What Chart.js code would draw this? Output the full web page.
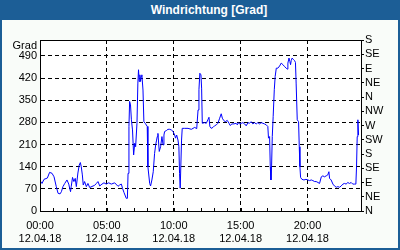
<!DOCTYPE html>
<html>
<head>
<meta charset="utf-8">
<script src="https://cdn.jsdelivr.net/npm/chart.js@4"></script>
<style>
  html, body { margin: 0; padding: 0; }
  body { width: 400px; height: 250px; overflow: hidden; position: relative; }
  #frame { position: absolute; left: 0; top: 0; width: 400px; height: 250px; box-sizing: border-box;
           border: 2px solid #1c5e96; background: #f9fcf9; }
  #titlebar { position: absolute; left: 0; top: 0; width: 400px; height: 20px; box-sizing: border-box;
              padding-left: 18px; background: #1c5e96; color: #fff; text-align: center;
              font: bold 12px "Liberation Sans", Arial, sans-serif; line-height: 20px; }
  #chart { position: absolute; left: 0; top: 0; }
</style>
</head>
<body>
<div id="frame"></div>
<div id="titlebar">Windrichtung [Grad]</div>
<canvas id="chart" width="400" height="250"></canvas>
<script>
// Zeit in Minuten ab 00:00
const minutes = [
  0, 9, 18, 33, 43, 54, 63, 73, 81, 90, 96, 103, 111, 121, 129, 133, 137, 140, 146, 152,
  158, 163, 170, 176, 181, 185, 190, 194, 200, 208, 215, 223, 238, 245, 253, 260, 268, 278, 287, 297,
  308, 320, 335,
  350, 357, 365, 370, 377, 387, 392, 395, 399, 402, 406, 410, 415, 420, 425, 429, 435, 439, 442, 445,
  448, 451, 454, 457, 462, 466, 472, 481, 484, 492, 496, 502, 508, 514, 519, 523, 526, 529, 535, 541,
  547, 552, 556, 559, 567, 574, 582, 589, 597, 604, 608, 613, 619, 623, 626, 629, 632, 635, 638, 649,
  664, 679, 694, 703,
  709, 713, 717, 722, 725, 728, 731, 738, 746, 753, 758, 762, 768, 776, 783, 791, 798, 806, 813, 818,
  824, 831, 840, 848, 853, 861, 870, 880, 885, 890, 895, 903, 910, 918, 925, 933, 940, 947, 955, 962,
  970, 977, 985, 992, 1000, 1007, 1015, 1022, 1025, 1030, 1033, 1036, 1039, 1042, 1046, 1051, 1055, 1060,
  1067, 1075, 1082, 1090, 1097, 1105, 1109, 1112, 1117, 1121, 1124, 1127, 1131, 1136, 1142, 1146, 1149, 1154, 1160, 1163,
  1166, 1169, 1175, 1184, 1193, 1202, 1209, 1217, 1224, 1232, 1239, 1247, 1254, 1262, 1269, 1276, 1284, 1291, 1296, 1299,
  1306, 1314, 1321, 1329, 1336, 1344, 1351, 1359, 1366, 1373, 1381, 1388, 1396, 1403, 1411, 1417, 1420, 1423, 1426, 1429
];

// Windrichtung in Grad
const windDir = [
  96, 87, 100, 104, 122, 119, 108, 77, 56, 54, 61, 77, 87, 98, 85, 72, 61, 77, 106, 93,
  103, 77, 120, 145, 153, 140, 114, 82, 93, 77, 87, 74, 79, 81, 87, 93, 79, 85, 89, 85,
  89, 85, 89,
  78, 82, 85, 72, 58, 40, 40, 119, 267, 346, 335, 288, 256, 177, 214, 203, 277, 404, 446, 409,
  430, 409, 425, 430, 382, 282, 277, 267, 140, 87, 79, 98, 124, 182, 209, 224, 235, 245, 188, 203,
  235, 209, 240, 251, 254, 258, 258, 256, 251, 240, 230, 240, 224, 203, 119, 72, 72, 224, 261, 261,
  261, 258, 264, 260,
  319, 383, 435, 430, 388, 277, 277, 279, 277, 288, 296, 267, 261, 264, 269, 272, 277, 293, 307, 293,
  286, 282, 286, 277, 270, 275, 275, 277, 272, 279, 275, 277, 279, 275, 269, 279, 277, 282, 275, 279,
  275, 279, 275, 279, 277, 275, 272, 267, 230, 235, 140, 98, 145, 235, 298, 383, 425, 451,
  451, 458, 467, 462, 456, 451, 448, 467, 483, 472, 462, 475, 483, 479, 475, 469, 404, 288, 282, 203,
  140, 106, 100, 98, 100, 98, 96, 98, 96, 93, 93, 90, 87, 108, 111, 108, 111, 114, 124, 103,
  98, 85, 79, 75, 77, 75, 79, 85, 87, 85, 90, 87, 90, 85, 85, 85, 140, 235, 288, 240
];

// Achsenbeschriftungen
const hourLabels = ['00:00', '05:00', '10:00', '15:00', '20:00'];
const dateLabel  = '12.04.18';
const compass    = ['N', 'NE', 'E', 'SE', 'S', 'SW', 'W', 'NW', 'N', 'NE', 'E', 'SE', 'S'];
const unitLabel  = 'Grad';

const FONT = '"Liberation Sans", Arial, sans-serif';
Chart.defaults.font.family = FONT;
Chart.defaults.font.size = 11;
Chart.defaults.color = '#000';

// Rahmen, Stundenstriche und "Grad"
const framePlugin = {
  id: 'framePlugin',
  beforeDraw(chart) {
    const { ctx, chartArea: a } = chart;
    ctx.save();
    ctx.fillStyle = '#ffffff';
    ctx.fillRect(a.left, a.top, a.right - a.left, a.bottom - a.top);
    ctx.restore();
  },
  afterDraw(chart) {
    const { ctx, chartArea: a, scales } = chart;
    ctx.save();
    ctx.strokeStyle = '#000';
    ctx.lineWidth = 1;
    ctx.strokeRect(Math.round(a.left) + 0.5, Math.round(a.top) + 0.5,
                   Math.round(a.right) - Math.round(a.left), Math.round(a.bottom) - Math.round(a.top));
    // kleine Stundenstriche nach innen
    ctx.beginPath();
    for (let m = 60; m < 1440; m += 60) {
      const px = Math.round(scales.x.getPixelForValue(m)) + 0.5;
      ctx.moveTo(px, Math.round(a.bottom));
      ctx.lineTo(px, Math.round(a.bottom) - 3);
    }
    ctx.stroke();
    ctx.fillStyle = '#000';
    ctx.font = '11px ' + FONT;
    ctx.textAlign = 'right';
    ctx.textBaseline = 'middle';
    ctx.fillText(unitLabel, a.left - 3, a.top + 6);
    ctx.restore();
  }
};

new Chart(document.getElementById('chart'), {
  type: 'line',
  data: {
    datasets: [{
      data: minutes.map((m, i) => ({ x: m, y: windDir[i] })),
      borderColor: '#0000ff',
      borderWidth: 1,
      pointRadius: 0,
      tension: 0,
      yAxisID: 'y'
    }]
  },
  options: {
    responsive: false,
    animation: false,
    layout: { padding: { top: 40, left: 0, right: 0, bottom: 0 } },
    plugins: { legend: { display: false }, tooltip: { enabled: false }, title: { display: false } },
    scales: {
      x: {
        type: 'linear',
        min: 0,
        max: 1440,
        afterFit: s => { s.height = 39; },
        ticks: {
          stepSize: 60,
          autoSkip: false,
          maxRotation: 0,
          padding: 8,
          font: { size: 11, lineHeight: 1.23 },
          callback: v => (v % 300 === 0 && v < 1440) ? [hourLabels[v / 300], dateLabel] : ''
        },
        grid: {
          drawTicks: false,
          lineWidth: 1,
          color: c => (c.tick && c.tick.value % 300 === 0 && c.tick.value > 0 && c.tick.value < 1440) ? '#000' : 'rgba(0,0,0,0)'
        },
        border: { display: true, color: '#000', width: 1, dash: [4, 3] }
      },
      y: {
        position: 'left',
        min: 0,
        max: 540,
        afterFit: s => { s.width = 40; },
        ticks: {
          stepSize: 70,
          padding: 3,
          callback: v => v >= 540 ? '' : String(v)
        },
        grid: {
          drawTicks: false,
          lineWidth: 1,
          color: c => (c.tick && c.tick.value > 0 && c.tick.value < 540) ? '#000' : 'rgba(0,0,0,0)'
        },
        border: { display: true, color: '#000', width: 1, dash: [4, 3] }
      },
      y2: {
        position: 'right',
        min: 0,
        max: 540,
        afterFit: s => { s.width = 39; },
        ticks: {
          stepSize: 45,
          padding: 1,
          autoSkip: false,
          callback: v => compass[Math.round(v / 45)]
        },
        grid: { drawOnChartArea: false, drawTicks: true, tickLength: 3, tickColor: '#000', color: '#000' },
        border: { display: true, color: '#000', width: 1 }
      }
    }
  },
  plugins: [framePlugin]
});
</script>
</body>
</html>
